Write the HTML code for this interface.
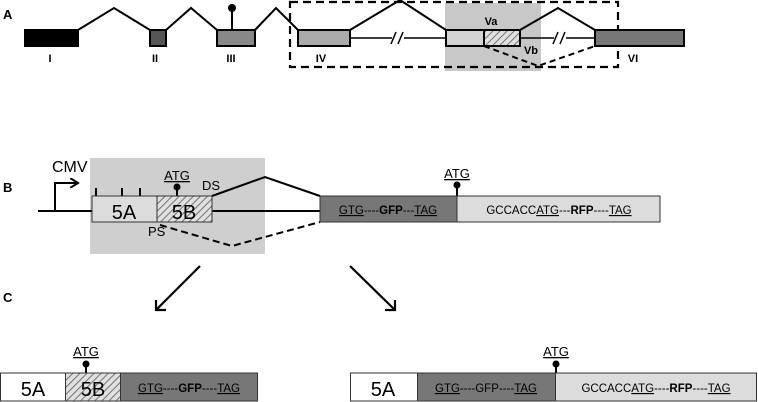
<!DOCTYPE html>
<html><head><meta charset="utf-8"><style>
html,body{margin:0;padding:0;background:#fff;}
svg{display:block;}
text{font-family:"Liberation Sans",sans-serif;}
</style></head><body>
<svg width="758" height="402" viewBox="0 0 758 402" xmlns="http://www.w3.org/2000/svg">
<defs>
<pattern id="h" width="5" height="5" patternUnits="userSpaceOnUse" patternTransform="rotate(45)">
<rect width="5" height="5" fill="#e0e0e0"/><line x1="0" y1="0" x2="0" y2="5" stroke="#666" stroke-width="1.8"/>
</pattern>
<marker id="ar" markerWidth="10" markerHeight="10" refX="8" refY="5" orient="auto" markerUnits="userSpaceOnUse">
<path d="M0,0 L8,5 L0,10" fill="none" stroke="#000" stroke-width="2"/>
</marker>
</defs>
<!-- Panel A -->
<text x="3" y="19" font-size="13" font-weight="bold">A</text>
<rect x="445" y="3" width="96" height="68" fill="#c8c8c8"/>
<rect x="290" y="2" width="328" height="65" fill="none" stroke="#000" stroke-width="2.2" stroke-dasharray="8,5"/>
<g fill="none" stroke="#000" stroke-width="2">
<polyline points="78,30 114,8 150,30"/>
<polyline points="166,30 191,8 217,30"/>
<polyline points="255,30 276,8 298,30"/>
<polyline points="350,30 400,0 446,30"/>
<polyline points="520,30 558,8 595,30"/>
<line x1="350" y1="38" x2="446" y2="38" stroke-width="1.5"/>
<line x1="520" y1="38" x2="595" y2="38" stroke-width="1.5"/>
<polyline points="484,46 538,66 595,46" stroke-dasharray="6,4"/>
<line x1="232" y1="30" x2="232" y2="9"/>
</g>
<rect x="392" y="33" width="12" height="10" fill="#fff"/>
<rect x="554" y="33" width="12" height="10" fill="#fff"/>
<g stroke="#000" stroke-width="1.5"><line x1="391" y1="44" x2="396" y2="32"/><line x1="398" y1="44" x2="403" y2="32"/><line x1="553" y1="44" x2="558" y2="32"/><line x1="560" y1="44" x2="565" y2="32"/></g>
<circle cx="232" cy="8" r="4" fill="#000"/>
<g stroke="#000" stroke-width="2">
<rect x="25" y="30" width="53" height="16" fill="#000"/>
<rect x="150" y="30" width="16" height="16" fill="#555"/>
<rect x="217" y="30" width="38" height="16" fill="#888"/>
<rect x="298" y="30" width="52" height="16" fill="#aaa"/>
<rect x="446" y="30" width="38" height="16" fill="#d2d2d2"/>
<rect x="484" y="30" width="36" height="16" fill="url(#h)"/>
<rect x="595" y="30" width="89" height="16" fill="#777"/>
</g>
<g font-size="11" font-weight="bold" text-anchor="middle">
<text x="50" y="62">I</text><text x="155" y="62">II</text><text x="231" y="62">III</text>
<text x="321" y="62">IV</text><text x="491" y="25">Va</text><text x="531" y="54">Vb</text><text x="633" y="62">VI</text>
</g>
<!-- Panel B -->
<text x="3" y="192" font-size="13" font-weight="bold">B</text>
<rect x="90" y="158" width="175" height="96" fill="#cfcfcf"/>
<g fill="none" stroke="#000" stroke-width="2">
<line x1="38" y1="211" x2="92" y2="211"/>
<polyline points="55,211 55,183 78,183" marker-end="url(#ar)"/>
<polyline points="212,196 265,177 320,196"/>
<line x1="212" y1="211" x2="320" y2="211"/>
<polyline points="160,225 232,246 320,222" stroke-dasharray="7,4"/>
<line x1="96" y1="196" x2="96" y2="188"/><line x1="122" y1="196" x2="122" y2="188"/><line x1="140" y1="196" x2="140" y2="188"/>
<line x1="177" y1="196" x2="177" y2="188"/>
<line x1="457" y1="196" x2="457" y2="187"/>
</g>
<circle cx="177" cy="187" r="3.5" fill="#000"/>
<circle cx="457" cy="185" r="3.5" fill="#000"/>
<text x="52" y="172" font-size="16">CMV</text>
<g stroke="#333" stroke-width="1">
<rect x="92" y="196" width="65" height="26" fill="#dcdcdc"/>
<rect x="157" y="196" width="55" height="26" fill="url(#h)"/>
<rect x="320" y="196" width="137" height="26" fill="#777"/>
<rect x="457" y="196" width="203" height="26" fill="#dcdcdc"/>
</g>
<text x="124" y="219" font-size="20" text-anchor="middle">5A</text>
<text x="184" y="219" font-size="20" text-anchor="middle">5B</text>
<text x="177" y="180" font-size="13" text-anchor="middle" text-decoration="underline">ATG</text>
<text x="457" y="178" font-size="13" text-anchor="middle" text-decoration="underline">ATG</text>
<text x="202" y="190" font-size="13">DS</text>
<text x="148" y="236" font-size="13">PS</text>
<text x="388" y="214" font-size="11.5" text-anchor="middle"><tspan text-decoration="underline">GTG</tspan>----<tspan font-weight="bold">GFP</tspan>---<tspan text-decoration="underline">TAG</tspan></text>
<text x="559" y="214" font-size="11.5" text-anchor="middle">GCCACC<tspan text-decoration="underline">ATG</tspan>---<tspan font-weight="bold">RFP</tspan>----<tspan text-decoration="underline">TAG</tspan></text>
<!-- arrows -->
<g stroke="#000" stroke-width="2.2" fill="none">
<line x1="200" y1="266" x2="156" y2="310"/><polyline points="156,300 156,310 166,310"/>
<line x1="350" y1="266" x2="395" y2="310"/><polyline points="385,310 395,310 395,300"/>
</g>
<!-- Panel C -->
<text x="3" y="302" font-size="13" font-weight="bold">C</text>
<g stroke="#000" stroke-width="2"><line x1="86" y1="373" x2="86" y2="365"/><line x1="556" y1="373" x2="556" y2="365"/></g>
<circle cx="86" cy="364" r="3.5" fill="#000"/>
<circle cx="556" cy="364" r="3.5" fill="#000"/>
<text x="86" y="356" font-size="13" text-anchor="middle" text-decoration="underline">ATG</text>
<text x="556" y="356" font-size="13" text-anchor="middle" text-decoration="underline">ATG</text>
<g stroke="#333" stroke-width="1">
<rect x="0.5" y="373" width="65" height="28" fill="#fff"/>
<rect x="65.5" y="373" width="55" height="28" fill="url(#h)"/>
<rect x="120.5" y="373" width="137" height="28" fill="#777"/>
<rect x="350.5" y="373" width="67" height="28" fill="#fff"/>
<rect x="417.5" y="373" width="138" height="28" fill="#777"/>
<rect x="555.5" y="373" width="201" height="28" fill="#dcdcdc"/>
</g>
<text x="33" y="396" font-size="20" text-anchor="middle">5A</text>
<text x="93" y="396" font-size="20" text-anchor="middle">5B</text>
<text x="383" y="396" font-size="20" text-anchor="middle">5A</text>
<text x="189" y="392" font-size="11.5" text-anchor="middle"><tspan text-decoration="underline">GTG</tspan>----<tspan font-weight="bold">GFP</tspan>----<tspan text-decoration="underline">TAG</tspan></text>
<text x="486" y="392" font-size="11.5" text-anchor="middle"><tspan text-decoration="underline">GTG</tspan>----GFP----<tspan text-decoration="underline">TAG</tspan></text>
<text x="656" y="392" font-size="11.5" text-anchor="middle">GCCACC<tspan text-decoration="underline">ATG</tspan>----<tspan font-weight="bold">RFP</tspan>----<tspan text-decoration="underline">TAG</tspan></text>
</svg>
</body></html>
